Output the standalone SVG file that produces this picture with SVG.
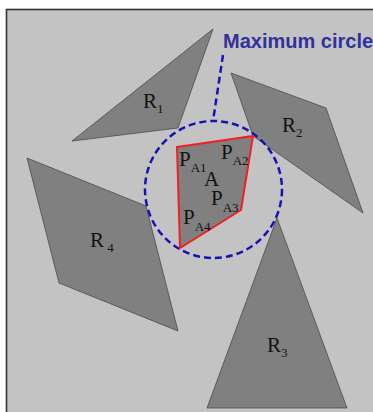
<svg xmlns="http://www.w3.org/2000/svg" width="373" height="412" viewBox="0 0 373 412">
<style>
.reg{fill:#808080;stroke:#4a4a4a;stroke-width:0.8;stroke-linejoin:miter}
.lbl{font-family:"Liberation Serif","Times New Roman",serif;font-size:21px;fill:#111}
.sub{font-size:13px}
.dash{fill:none;stroke:#1414b4;stroke-width:2.5;stroke-dasharray:7 4}
</style>
<rect x="0" y="0" width="373" height="412" fill="#ffffff"/>
<rect x="6.5" y="9.5" width="380" height="420" fill="#c3c3c3" stroke="#333" stroke-width="1.6"/>
<g id="R1">
<polygon class="reg" points="213,29 178,128 72,141"/>
<text class="lbl" x="143" y="108">R<tspan class="sub" dy="5">1</tspan></text>
</g>
<g id="R2">
<polygon class="reg" points="231,73 326,108 363,213 253,136"/>
<text class="lbl" x="282" y="132">R<tspan class="sub" dy="5">2</tspan></text>
</g>
<g id="R3">
<polygon class="reg" points="277,218 347,408 207,408"/>
<text class="lbl" x="267" y="352">R<tspan class="sub" dy="5">3</tspan></text>
</g>
<g id="R4">
<polygon class="reg" points="27,158 146,206 178,331 59,283"/>
<text class="lbl" x="90" y="247">R<tspan class="sub" dy="5"> 4</tspan></text>
</g>
<g id="circle">
<circle class="dash" cx="213.5" cy="189.5" r="68.5"/>
</g>
<g id="A">
<polygon points="177,147 253,136 241,210 180,248" fill="#808080" stroke="#f02020" stroke-width="2"/>
<text class="lbl" x="179" y="166">P<tspan class="sub" dy="6">A1</tspan></text>
<text class="lbl" x="221" y="159">P<tspan class="sub" dy="6">A2</tspan></text>
<text class="lbl" x="204" y="186">A</text>
<text class="lbl" x="211" y="205">P<tspan class="sub" dy="7">A3</tspan></text>
<text class="lbl" x="183" y="224">P<tspan class="sub" dy="7">A4</tspan></text>
</g>
<g id="connectors">
<line class="dash" x1="223" y1="55" x2="213" y2="121"/>
</g>
<g id="label">
<text x="223" y="48" font-family="Liberation Sans, Arial, sans-serif" font-weight="bold" font-size="20" fill="#32329c">Maximum circle</text>
</g>
</svg>
